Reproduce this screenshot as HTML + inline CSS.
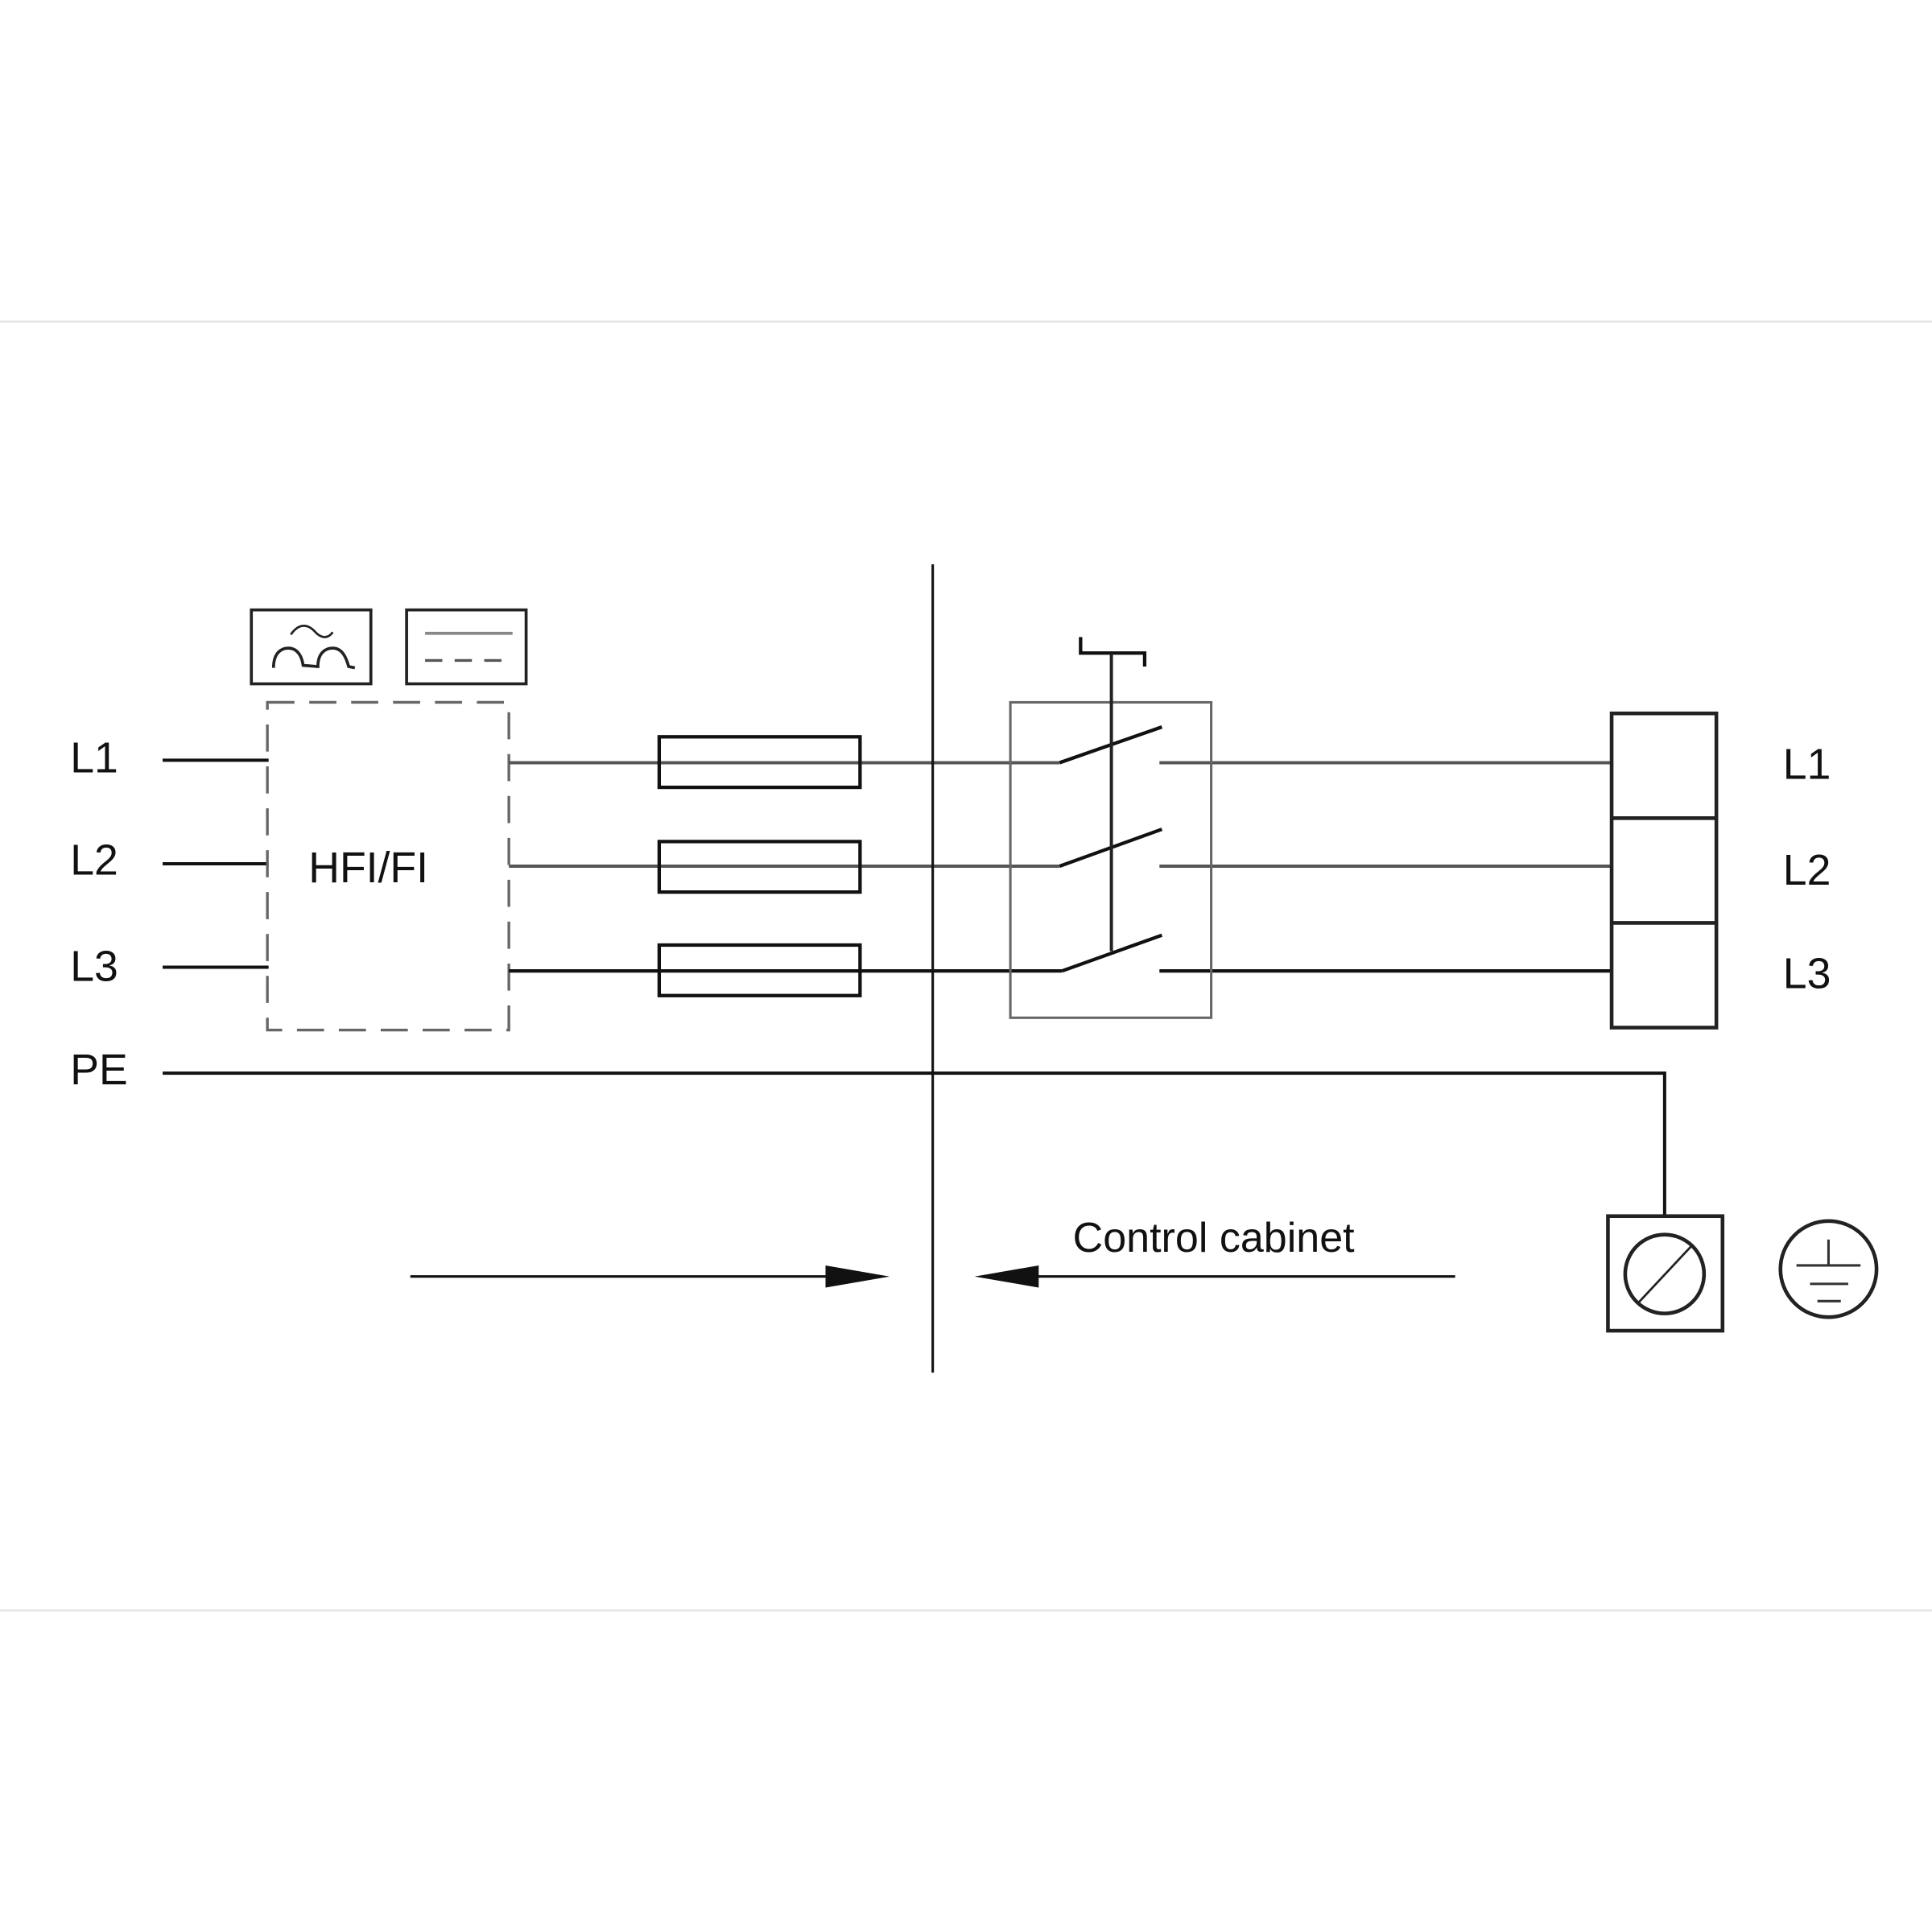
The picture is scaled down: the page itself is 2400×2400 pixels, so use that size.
<!DOCTYPE html>
<html><head><style>html,body{margin:0;padding:0;background:#fff}svg{display:block}</style></head>
<body>
<svg width="2400" height="2400" viewBox="0 0 1568 1568" xmlns="http://www.w3.org/2000/svg" font-family="Liberation Sans, sans-serif">
<rect width="1568" height="1568" fill="#fff"/>
<line x1="0" y1="261" x2="1568" y2="261" stroke="#e3e3e3" stroke-width="1.5"/>
<line x1="0" y1="1307" x2="1568" y2="1307" stroke="#e3e3e3" stroke-width="1.5"/>
<g font-size="35" fill="#111">
<text x="57" y="627">L1</text><text x="57" y="710">L2</text><text x="57" y="796">L3</text><text x="57" y="880">PE</text>
<text x="1447" y="632">L1</text><text x="1447" y="718">L2</text><text x="1447" y="802">L3</text>
<text x="299" y="716" text-anchor="middle">HFI/FI</text>
<text x="985" y="1016" text-anchor="middle" font-size="34">Control cabinet</text>
</g>
<g stroke="#111" stroke-width="2.6" fill="none">
<line x1="132" y1="617" x2="218" y2="617"/><line x1="132" y1="701" x2="218" y2="701"/><line x1="132" y1="785" x2="218" y2="785"/>
<polyline points="132,871 1351,871 1351,987"/>
</g>
<rect x="217" y="570" width="196" height="266" fill="none" stroke="#666" stroke-width="2.2" stroke-dasharray="22,12"/>
<g stroke="#222" stroke-width="2.4" fill="none">
<rect x="204" y="495" width="97" height="60"/><rect x="330" y="495" width="97" height="60"/>
<path d="M236,515 C243,505 250,507 255,512 C260,518 266,519 270,513" stroke-width="1.8"/>
<path d="M222,542 C222,530 228,526 234,526 C241,526 245,532 246,540 L258,541 C258,530 264,526 270,526 C278,526 281,534 283,541 L288,542"/>
</g>
<line x1="345" y1="514" x2="416" y2="514" stroke="#888" stroke-width="2.4"/>
<line x1="345" y1="536" x2="416" y2="536" stroke="#555" stroke-width="2.2" stroke-dasharray="14,10"/>
<g stroke="#555" stroke-width="2.6" fill="none">
<line x1="413" y1="619" x2="860" y2="619"/><line x1="413" y1="703" x2="860" y2="703"/>
<line x1="941" y1="619" x2="1307" y2="619"/><line x1="941" y1="703" x2="1307" y2="703"/>
</g>
<g stroke="#111" stroke-width="2.8" fill="none">
<line x1="413" y1="788" x2="862" y2="788"/><line x1="941" y1="788" x2="1307" y2="788"/>
<rect x="535" y="598" width="163" height="41"/><rect x="535" y="683" width="163" height="41"/><rect x="535" y="767" width="163" height="41"/>
<line x1="860" y1="619" x2="943" y2="590"/><line x1="860" y1="703" x2="943" y2="673"/><line x1="862" y1="788" x2="943" y2="759"/>
<polyline points="877,517 877,530 929,530 929,541"/>
</g>
<rect x="820" y="570" width="163" height="256" fill="none" stroke="#666" stroke-width="2"/>
<line x1="902" y1="530" x2="902" y2="772" stroke="#222" stroke-width="2.6"/>
<line x1="757" y1="458" x2="757" y2="1114" stroke="#111" stroke-width="2"/>
<g stroke="#222" stroke-width="3" fill="none">
<rect x="1308" y="579" width="85" height="255"/>
<line x1="1308" y1="664" x2="1393" y2="664"/><line x1="1308" y1="749" x2="1393" y2="749"/>
<rect x="1305" y="987" width="93" height="93"/>
<circle cx="1351" cy="1034" r="32"/>
<circle cx="1484" cy="1030" r="39"/>
</g>
<line x1="1330" y1="1057" x2="1373" y2="1011" stroke="#222" stroke-width="1.8"/>
<g stroke="#333" stroke-width="2">
<line x1="1484" y1="1006" x2="1484" y2="1027"/><line x1="1458" y1="1027" x2="1510" y2="1027"/>
<line x1="1469" y1="1042" x2="1500" y2="1042"/><line x1="1475" y1="1056" x2="1494" y2="1056"/>
</g>
<g stroke="#111" stroke-width="2">
<line x1="333" y1="1036" x2="700" y2="1036"/><line x1="820" y1="1036" x2="1181" y2="1036"/>
</g>
<polygon points="670,1027 722,1036 670,1045" fill="#111"/>
<polygon points="843,1027 791,1036 843,1045" fill="#111"/>
</svg>
</body></html>
